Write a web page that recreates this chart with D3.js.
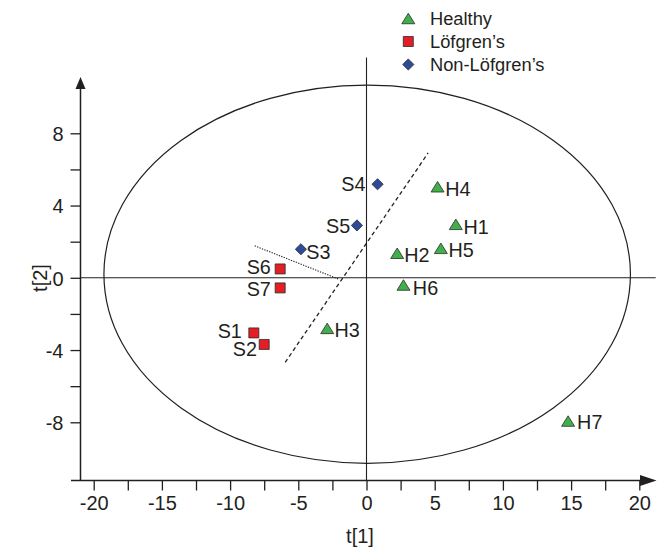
<!DOCTYPE html>
<html>
<head>
<meta charset="utf-8">
<script src="https://cdn.jsdelivr.net/npm/d3@7"></script>
<style>
  html, body { margin: 0; padding: 0; background: #fff; }
  svg { display: block; }
  text { font-family: "Liberation Sans", Arial, sans-serif; fill: #231f20; }
</style>
</head>
<body>
<svg id="chart" width="657" height="549"></svg>
<script>
// ---- data ----
const sampleNames = ["H1","H2","H3","H4","H5","H6","H7","S1","S2","S3","S4","S5","S6","S7"];
const groups      = ["Healthy","Healthy","Healthy","Healthy","Healthy","Healthy","Healthy",
                     "Löfgren’s","Löfgren’s","Non-Löfgren’s","Non-Löfgren’s","Non-Löfgren’s","Löfgren’s","Löfgren’s"];
const t1Values = [6.55, 2.25, -2.88, 5.21, 5.45, 2.71, 14.78, -8.26, -7.50, -4.81, 0.81, -0.70, -6.33, -6.33];
const t2Values = [2.96, 1.36, -2.80, 5.04, 1.63, -0.40, -7.93, -3.05, -3.69, 1.58, 5.18, 2.90, 0.49, -0.56];
const legendLabels = ["Healthy","Löfgren’s","Non-Löfgren’s"];
const xTickValues = d3.range(-20, 20.01, 2.5);
const yTickValues = d3.range(-8, 8.01, 2);
const ellipseCenter = [0.05, 0.2];
const ellipseRadii = [19.3, 10.47];
const dashedLine = [[-5.96, -4.68], [4.52, 6.91]];
const dottedLine = [[-8.2, 1.77], [-2.05, -0.07]];

// ---- styling / layout ----
const colors = { "Healthy": "#3fb04a", "Löfgren’s": "#e31e24", "Non-Löfgren’s": "#2e4b9b" };
const shapes = { "Healthy": "triangle", "Löfgren’s": "square", "Non-Löfgren’s": "diamond" };
const labelOffsets = {
  H1: [7.6, 9.7, "start"], H2: [7, 8.4, "start"], H3: [7.3, 8.4, "start"], H4: [7.7, 9, "start"],
  H5: [7.6, 9, "start"], H6: [9.4, 10, "start"], H7: [9, 7.5, "start"],
  S1: [-12, 5.6, "end"], S2: [-7.3, 11.7, "end"], S3: [5.3, 10, "start"], S4: [-12, 6.4, "end"],
  S5: [-6.7, 7.4, "end"], S6: [-9.3, 4.6, "end"], S7: [-9.3, 7.8, "end"]
};
const ink = "#231f20";
const labelSize = 19.8, tickSize = 20, titleSize = 20, legendSize = 18.3;

const svg = d3.select("#chart");
const x = d3.scaleLinear().domain([-20, 20]).range([93.7, 639.3]);
const y = d3.scaleLinear().domain([-8, 8]).range([422.3, 133.3]);
const axisY = 480.5, axisX = 80.5;

function shapePath(kind, cx, cy) {
  if (kind === "triangle") {
    const w = 13, h = 10.5;
    return `M${cx},${cy - h/2}L${cx + w/2},${cy + h/2}L${cx - w/2},${cy + h/2}Z`;
  }
  if (kind === "square") {
    const s = 10;
    return `M${cx - s/2},${cy - s/2}h${s}v${s}h${-s}Z`;
  }
  const r = 5.6;
  return `M${cx},${cy - r}L${cx + r},${cy}L${cx},${cy + r}L${cx - r},${cy}Z`;
}

// ellipse
svg.append("ellipse")
  .attr("cx", x(ellipseCenter[0])).attr("cy", y(ellipseCenter[1]))
  .attr("rx", x(ellipseRadii[0]) - x(0)).attr("ry", y(0) - y(ellipseRadii[1]))
  .attr("fill", "none").attr("stroke", ink).attr("stroke-width", 1.2);

// zero lines
svg.append("line").attr("x1", axisX).attr("x2", x(21.2)).attr("y1", y(0)).attr("y2", y(0))
  .attr("stroke", ink).attr("stroke-width", 1.1);
svg.append("line").attr("x1", x(0)).attr("x2", x(0)).attr("y1", y(12.2)).attr("y2", axisY)
  .attr("stroke", ink).attr("stroke-width", 1.1);

// discriminating lines
svg.append("line")
  .attr("x1", x(dashedLine[0][0])).attr("y1", y(dashedLine[0][1]))
  .attr("x2", x(dashedLine[1][0])).attr("y2", y(dashedLine[1][1]))
  .attr("stroke", ink).attr("stroke-width", 1.3).attr("stroke-dasharray", "4,3");
svg.append("line")
  .attr("x1", x(dottedLine[0][0])).attr("y1", y(dottedLine[0][1]))
  .attr("x2", x(dottedLine[1][0])).attr("y2", y(dottedLine[1][1]))
  .attr("stroke", ink).attr("stroke-width", 1.1).attr("stroke-dasharray", "1.3,1.3");

// axes
const fmt = v => String(v).replace("\u2212", "-");
const xAxis = d3.axisBottom(x).tickValues(xTickValues).tickSize(10).tickSizeOuter(0)
  .tickFormat(v => (v % 5 === 0 ? fmt(v) : ""));
const gx = svg.append("g").attr("transform", `translate(0,${axisY})`).call(xAxis);
gx.select(".domain").remove();
gx.selectAll(".tick line").attr("stroke", ink).attr("stroke-width", 1.3);
gx.selectAll(".tick text").attr("font-size", tickSize).attr("dy", null).attr("y", 29.5)
  .attr("font-family", "Liberation Sans, Arial, sans-serif").attr("fill", ink);

const yAxis = d3.axisLeft(y).tickValues(yTickValues).tickSize(10).tickSizeOuter(0)
  .tickFormat(v => (v % 4 === 0 ? fmt(v) : ""));
const gy = svg.append("g").attr("transform", `translate(${axisX},0)`).call(yAxis);
gy.select(".domain").remove();
gy.selectAll(".tick line").attr("stroke", ink).attr("stroke-width", 1.3);
gy.selectAll(".tick text").attr("font-size", tickSize).attr("x", -17).attr("dy", "0.36em")
  .attr("font-family", "Liberation Sans, Arial, sans-serif").attr("fill", ink);

// axis lines with arrows
svg.append("line").attr("x1", 71).attr("x2", 641).attr("y1", axisY).attr("y2", axisY)
  .attr("stroke", ink).attr("stroke-width", 1.5);
svg.append("path").attr("d", `M640,${axisY - 5.5}L656.5,${axisY}L640,${axisY + 5.5}Z`).attr("fill", ink);
svg.append("line").attr("x1", axisX).attr("x2", axisX).attr("y1", 88).attr("y2", axisY)
  .attr("stroke", ink).attr("stroke-width", 1.5);
svg.append("path").attr("d", `M${axisX - 5},89L${axisX},77L${axisX + 5},89Z`).attr("fill", ink);

// axis titles
svg.append("text").attr("x", 360).attr("y", 543).attr("text-anchor", "middle")
  .attr("font-size", titleSize).text("t[1]");
svg.append("text").attr("transform", "translate(47,278) rotate(-90)").attr("text-anchor", "middle")
  .attr("font-size", titleSize).text("t[2]");

// points
const points = sampleNames.map((n, i) => ({ name: n, group: groups[i], t1: t1Values[i], t2: t2Values[i] }));
svg.append("g").selectAll("path").data(points).join("path")
  .attr("d", d => shapePath(shapes[d.group], x(d.t1), y(d.t2)))
  .attr("fill", d => colors[d.group]).attr("stroke", "#2b2b2b").attr("stroke-width", 0.8);
svg.append("g").selectAll("text").data(points).join("text")
  .attr("x", d => x(d.t1) + labelOffsets[d.name][0])
  .attr("y", d => y(d.t2) + labelOffsets[d.name][1])
  .attr("text-anchor", d => labelOffsets[d.name][2])
  .attr("font-size", labelSize).text(d => d.name);

// legend
const lg = svg.append("g");
legendLabels.forEach((lab, i) => {
  const cy = 18.5 + i * 23;
  lg.append("path").attr("d", shapePath(shapes[lab], 408.3, cy))
    .attr("fill", colors[lab]).attr("stroke", "#2b2b2b").attr("stroke-width", 0.8);
  lg.append("text").attr("x", 430).attr("y", cy + 6.8).attr("font-size", legendSize).text(lab);
});
</script>
</body>
</html>
